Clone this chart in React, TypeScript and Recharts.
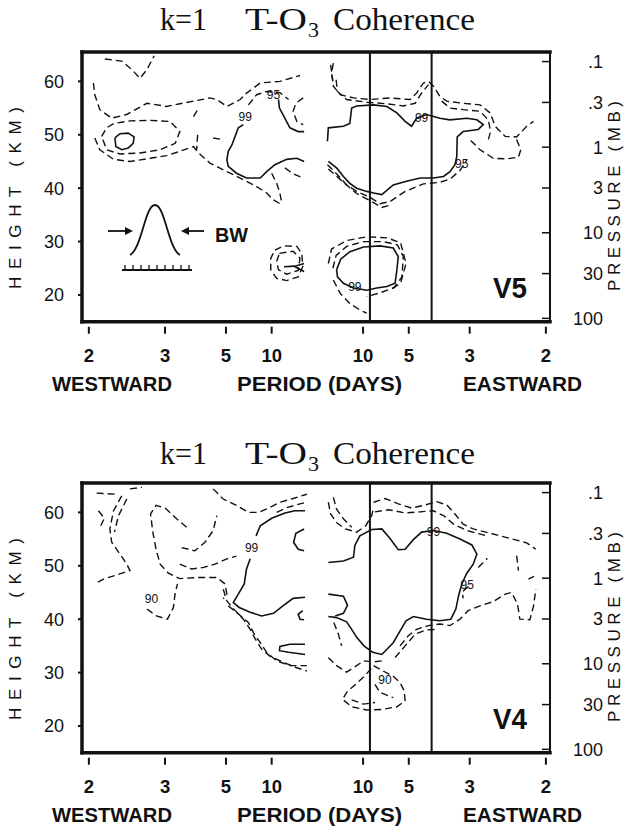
import React from 'react'
import { ScatterChart, Scatter, XAxis, YAxis, ReferenceLine } from 'recharts'

type Pt = [number, number]
type Tag = { f: number; z: number; text: string }

// x: signed frequency (cycles/day, westward < 0), y: height (km)
const FREQ_DOMAIN: [number, number] = [-0.515, 0.509]
const HEIGHT_DOMAIN: [number, number] = [15, 65.5]
const PERIOD_TICKS = [-0.5, -1 / 3, -0.2, -0.1, 0.1, 0.2, 1 / 3, 0.5]
const PERIOD_LABELS = ['2', '3', '5', '10', '10', '5', '3', '2']
const FREQ_MINOR = Array.from({ length: 63 }, (_, i) => (i - 31) / 62)
const HEIGHT_TICKS = [20, 30, 40, 50, 60]
const HEIGHT_MINOR = [20, 25, 30, 35, 40, 45, 50, 55, 60, 65]
const PRESSURE_TICKS = [0.1, 0.3, 1, 3, 10, 30, 100]
const PRESSURE_LABELS = ['.1', '.3', '1', '3', '10', '30', '100']
const PRESSURE_MINOR = [0.2, 0.4, 0.5, 0.6, 0.7, 0.8, 0.9, 2, 4, 5, 6, 7, 8, 9, 20, 40, 50, 60, 70, 80, 90]
const BAND_EDGES = [0.115, 0.25]

const pToKm = (p: number) => 6.96 * Math.log(1000 / p) - 0.4
const PRESSURE_KM = PRESSURE_TICKS.map(pToKm)
const PRESSURE_MINOR_KM = PRESSURE_MINOR.map(pToKm)

// ---- V5 contours ----
const v5d1: Pt[] = [[-0.465, 64.2], [-0.428, 63.8], [-0.406, 62.2], [-0.388, 60.6], [-0.373, 62.2], [-0.357, 64.8]]
const v5d2: Pt[] = [[-0.49, 59.7], [-0.487, 57.5], [-0.476, 54.7], [-0.45, 53.1], [-0.417, 53.8], [-0.373, 55.9], [-0.33, 55.3], [-0.301, 55.8], [-0.235, 56.9], [-0.22, 56.6], [-0.198, 55.3], [-0.169, 56.6], [-0.155, 57.8], [-0.125, 59.7], [-0.082, 60.0], [-0.038, 61.1]]
const v5d3: Pt[] = [[-0.472, 49.7], [-0.461, 51.3], [-0.446, 52.1], [-0.41, 52.6], [-0.366, 52.7], [-0.322, 52.5], [-0.301, 50.6], [-0.311, 48.4], [-0.344, 47.2], [-0.388, 46.6], [-0.432, 46.4], [-0.461, 47.2], [-0.472, 49.7]]
const v5d4: Pt[] = [[-0.487, 49.4], [-0.476, 47.2], [-0.446, 45.4], [-0.41, 45.0], [-0.366, 45.6], [-0.33, 46.1], [-0.301, 46.9], [-0.271, 47.8], [-0.26, 46.6], [-0.235, 44.7], [-0.198, 43.1], [-0.162, 41.6], [-0.133, 40.3], [-0.111, 39.1], [-0.096, 37.8], [-0.078, 36.9]]
const v5d5: Pt[] = [[-0.262, 50.0], [-0.264, 47.2]]
const v5d6: Pt[] = [[-0.151, 55.6], [-0.133, 57.5], [-0.111, 58.1], [-0.082, 57.9], [-0.063, 56.6]]
const v5d7: Pt[] = [[-0.031, 56.9], [-0.047, 55.9], [-0.053, 54.4], [-0.045, 52.5], [-0.031, 51.9]]
const v5d8: Pt[] = [[-0.1, 42.8], [-0.089, 40.9], [-0.082, 39.1], [-0.078, 37.2]]
const v5d9: Pt[] = [[-0.071, 43.8], [-0.053, 42.7], [-0.032, 41.9]]
const v5d10: Pt[] = [[-0.093, 28.4], [-0.074, 29.2], [-0.045, 29.1], [-0.034, 27.8], [-0.032, 25.3], [-0.042, 23.4], [-0.067, 22.7], [-0.089, 23.1], [-0.102, 24.7], [-0.102, 26.9], [-0.093, 28.4]]
const v5d11: Pt[] = [[-0.083, 27.8], [-0.053, 28.2], [-0.038, 26.9], [-0.042, 24.6], [-0.067, 23.9], [-0.085, 24.7], [-0.089, 26.3], [-0.083, 27.8]]
const v5d12: Pt[] = [[0.035, 63.4], [0.031, 61.6], [0.035, 59.1], [0.05, 57.5], [0.079, 56.9], [0.115, 56.6], [0.159, 56.9], [0.203, 56.6], [0.217, 57.8], [0.232, 59.7], [0.243, 60.0], [0.254, 59.1], [0.268, 57.2], [0.283, 56.3], [0.319, 55.9], [0.356, 55.6], [0.378, 54.1], [0.389, 51.6], [0.411, 49.7], [0.436, 49.6], [0.458, 51.6], [0.473, 52.5]]
const v5d13: Pt[] = [[0.436, 49.1], [0.445, 47.2], [0.44, 45.8], [0.414, 45.5], [0.385, 45.6], [0.356, 47.2], [0.33, 49.4]]
const v5d14: Pt[] = [[0.041, 60.3], [0.044, 58.1], [0.064, 56.6], [0.108, 56.1], [0.152, 55.8], [0.188, 55.4], [0.214, 55.9], [0.228, 57.8], [0.243, 59.4]]
const v5d15: Pt[] = [[0.272, 56.3], [0.29, 55.0], [0.319, 54.7], [0.356, 54.4], [0.374, 52.8], [0.379, 50.6], [0.374, 49.1]]
const v5d16: Pt[] = [[0.022, 44.4], [0.042, 42.7], [0.064, 40.6], [0.086, 39.4], [0.115, 38.3], [0.137, 37.1], [0.159, 37.5], [0.192, 39.4], [0.232, 40.8], [0.268, 41.1], [0.29, 41.7], [0.312, 43.3], [0.327, 45.3]]
const v5d17: Pt[] = [[0.024, 43.6], [0.057, 41.1], [0.086, 39.0], [0.123, 37.3], [0.141, 36.4], [0.163, 36.9]]
const v5d18: Pt[] = [[0.029, 63.1], [0.034, 60.0]]
const v5d19: Pt[] = [[0.034, 25.0], [0.041, 27.4], [0.064, 29.1], [0.101, 30.0], [0.144, 30.0], [0.175, 29.4], [0.188, 27.2], [0.185, 23.4], [0.168, 21.4], [0.137, 20.4], [0.108, 19.7]]
const v5d20: Pt[] = [[0.024, 25.9], [0.031, 28.6], [0.064, 30.2], [0.108, 30.9], [0.152, 30.7], [0.182, 29.8], [0.194, 25.9], [0.182, 22.2], [0.159, 20.9]]
const v5d21: Pt[] = [[0.035, 22.8], [0.05, 20.3], [0.071, 18.4], [0.093, 17.2], [0.108, 16.6]]
const v5d22: Pt[] = [[-0.228, 49.4], [-0.206, 49.1]]
const v5d23: Pt[] = [[-0.271, 53.4], [-0.26, 55.0]]

const v5s1: Pt[] = [[-0.443, 49.4], [-0.432, 50.2], [-0.414, 50.3], [-0.401, 49.6], [-0.403, 48.4], [-0.414, 47.5], [-0.428, 47.2], [-0.441, 47.8], [-0.443, 49.4]]
const v5s2: Pt[] = [[-0.162, 51.9], [-0.173, 51.3], [-0.18, 49.7], [-0.187, 48.1], [-0.195, 46.9], [-0.198, 45.3], [-0.195, 44.1], [-0.177, 42.8], [-0.155, 41.9], [-0.125, 41.9], [-0.111, 43.1], [-0.093, 44.4], [-0.067, 45.4], [-0.045, 45.6], [-0.029, 45.0]]
const v5s3: Pt[] = [[-0.085, 56.6], [-0.083, 55.0], [-0.073, 53.4], [-0.06, 51.3], [-0.042, 50.6], [-0.029, 50.6]]
const v5s4: Pt[] = [[-0.073, 25.3], [-0.049, 25.4], [-0.029, 25.9]]
const v5s5: Pt[] = [[-0.049, 25.3], [-0.029, 24.4]]
const v5s6: Pt[] = [[0.022, 48.8], [0.024, 51.3], [0.057, 51.6], [0.071, 52.1], [0.075, 55.0], [0.086, 55.4], [0.123, 55.6], [0.152, 55.3], [0.174, 54.1], [0.192, 52.5], [0.206, 51.6], [0.217, 53.1], [0.239, 53.8], [0.268, 53.1], [0.29, 52.8], [0.327, 53.1], [0.349, 52.8], [0.363, 51.9], [0.352, 51.0], [0.319, 50.6], [0.306, 49.6], [0.305, 45.9], [0.301, 44.4], [0.29, 43.1], [0.276, 42.2], [0.254, 41.9], [0.225, 41.9], [0.195, 41.3], [0.166, 40.6], [0.141, 38.8], [0.123, 39.1], [0.108, 39.4], [0.086, 40.0], [0.071, 40.9], [0.057, 42.2], [0.042, 43.8], [0.024, 45.0]]
const v5s7: Pt[] = [[0.042, 24.7], [0.051, 26.7], [0.071, 28.1], [0.101, 29.0], [0.137, 29.2], [0.166, 28.8], [0.177, 27.2], [0.174, 24.7], [0.17, 22.2], [0.152, 21.6], [0.13, 21.3], [0.108, 20.9], [0.079, 21.3], [0.057, 22.2], [0.044, 23.4], [0.042, 24.7]]

const V5_DASHED = [v5d1, v5d2, v5d3, v5d4, v5d5, v5d6, v5d7, v5d8, v5d9, v5d10, v5d11, v5d12, v5d13, v5d14, v5d15, v5d16, v5d17, v5d18, v5d19, v5d20, v5d21, v5d22, v5d23]
const V5_SOLID = [v5s1, v5s2, v5s3, v5s4, v5s5, v5s6, v5s7]
const V5_TAGS: Tag[] = [
  { f: -0.158, z: 53.4, text: '99' },
  { f: -0.096, z: 57.4, text: '95' },
  { f: 0.228, z: 53.2, text: '99' },
  { f: 0.316, z: 44.6, text: '95' },
  { f: 0.082, z: 21.5, text: '99' },
]

// ---- V4 contours ----
const v4d1: Pt[] = [[-0.483, 63.6], [-0.439, 63.4]]
const v4d1b: Pt[] = [[-0.41, 64.4], [-0.384, 64.7]]
const v4d2: Pt[] = [[-0.479, 60.3], [-0.466, 58.9], [-0.474, 57.5]]
const v4d3: Pt[] = [[-0.428, 63.1], [-0.446, 60.3], [-0.454, 56.9], [-0.45, 54.4], [-0.432, 52.2], [-0.417, 50.3], [-0.41, 49.1], [-0.439, 48.3], [-0.468, 47.5], [-0.483, 46.8]]
const v4d4: Pt[] = [[-0.417, 62.5], [-0.435, 59.4], [-0.444, 56.3]]
const v4d5: Pt[] = [[-0.286, 57.2], [-0.308, 58.8], [-0.333, 60.8], [-0.353, 61.3], [-0.365, 59.7], [-0.36, 56.3], [-0.353, 53.1], [-0.344, 50.3], [-0.326, 48.6], [-0.301, 47.6], [-0.264, 47.8], [-0.22, 47.8], [-0.202, 46.6], [-0.198, 44.7], [-0.206, 43.8]]
const v4d6: Pt[] = [[-0.297, 53.4], [-0.268, 52.8], [-0.246, 54.4], [-0.228, 56.6], [-0.22, 59.4]]
const v4d7: Pt[] = [[-0.301, 50.3], [-0.275, 49.4], [-0.249, 49.7], [-0.224, 50.3], [-0.198, 51.3], [-0.177, 51.8]]
const v4d8: Pt[] = [[-0.373, 41.9], [-0.352, 40.6], [-0.328, 40.0], [-0.315, 42.2], [-0.311, 45.0], [-0.306, 46.6]]
const v4d9: Pt[] = [[-0.228, 64.4], [-0.206, 62.5], [-0.177, 61.3], [-0.151, 60.0], [-0.129, 60.0], [-0.107, 60.8], [-0.082, 61.9], [-0.053, 62.6], [-0.023, 63.4]]
const v4d10: Pt[] = [[-0.089, 60.0], [-0.067, 60.9], [-0.038, 61.6], [-0.023, 61.9]]
const v4d11: Pt[] = [[-0.206, 45.6], [-0.198, 43.4], [-0.18, 41.6], [-0.162, 40.0], [-0.147, 38.1], [-0.136, 36.3], [-0.122, 34.4], [-0.104, 33.1], [-0.074, 31.9], [-0.045, 30.9], [-0.023, 30.3]]
const v4d12: Pt[] = [[-0.195, 42.5], [-0.173, 41.0], [-0.151, 39.4], [-0.14, 37.5], [-0.125, 35.6], [-0.111, 33.8], [-0.089, 32.2], [-0.06, 31.3], [-0.023, 31.3]]
const v4d13: Pt[] = [[0.024, 61.9], [0.029, 59.7], [0.042, 58.1], [0.061, 56.9], [0.086, 56.3], [0.106, 57.5], [0.119, 59.4], [0.123, 60.9]]
const v4d14: Pt[] = [[0.035, 62.8], [0.042, 60.6], [0.057, 58.8], [0.075, 57.2]]
const v4d15: Pt[] = [[0.123, 61.9], [0.148, 62.6], [0.177, 61.6], [0.206, 60.8], [0.232, 61.3], [0.261, 62.0], [0.283, 61.4], [0.301, 59.7], [0.319, 57.8], [0.341, 56.9], [0.378, 56.1], [0.422, 55.1], [0.458, 54.3], [0.478, 53.1]]
const v4d16: Pt[] = [[0.126, 60.1], [0.155, 60.5], [0.192, 59.9], [0.225, 60.1], [0.254, 60.3], [0.276, 59.4], [0.298, 57.8], [0.327, 56.6], [0.371, 55.6]]
const v4d17: Pt[] = [[0.036, 39.4], [0.046, 37.2], [0.053, 35.0]]
const v4d18: Pt[] = [[0.024, 32.8], [0.042, 31.3], [0.064, 30.1], [0.086, 31.3], [0.101, 32.2], [0.123, 32.0], [0.141, 32.2]]
const v4d19: Pt[] = [[0.123, 31.3], [0.144, 30.3], [0.166, 29.3], [0.181, 28.1], [0.19, 26.6], [0.192, 24.7], [0.174, 23.6], [0.141, 23.1], [0.108, 23.0], [0.075, 23.6], [0.055, 25.0], [0.064, 26.3], [0.086, 28.0], [0.104, 29.4], [0.123, 31.3]]
const v4d20: Pt[] = [[0.075, 24.9], [0.101, 24.1], [0.126, 24.4]]
const v4d21: Pt[] = [[0.126, 27.8], [0.137, 26.3], [0.166, 25.3]]
const v4d22: Pt[] = [[0.181, 35.0], [0.199, 36.9], [0.217, 38.1], [0.243, 38.8], [0.268, 39.1], [0.29, 38.8], [0.312, 40.0], [0.33, 41.6], [0.356, 42.5], [0.385, 43.3], [0.411, 44.7], [0.425, 45.0], [0.438, 42.8], [0.443, 40.0], [0.465, 39.9], [0.473, 42.5], [0.478, 45.6]]
const v4d23: Pt[] = [[0.17, 32.8], [0.192, 35.0], [0.214, 37.2], [0.239, 38.0], [0.265, 38.1]]
const v4d24: Pt[] = [[0.436, 51.9], [0.44, 49.1]]
const v4d25: Pt[] = [[0.462, 47.5], [0.474, 48.0]]
const v4d26: Pt[] = [[0.352, 49.7], [0.372, 51.4]]
const v4d27: Pt[] = [[0.33, 46.1], [0.317, 45.1], [0.319, 43.9]]

const v4s1: Pt[] = [[-0.027, 60.3], [-0.049, 60.3], [-0.071, 59.9], [-0.1, 58.9], [-0.125, 57.5], [-0.134, 55.6]]
const v4s2: Pt[] = [[-0.147, 51.3], [-0.155, 49.4], [-0.16, 46.6], [-0.173, 44.7], [-0.184, 43.1], [-0.171, 42.2], [-0.147, 41.3], [-0.122, 40.6], [-0.096, 41.1], [-0.074, 42.6], [-0.053, 43.9], [-0.027, 44.1]]
const v4s3: Pt[] = [[-0.029, 56.9], [-0.047, 56.1], [-0.052, 54.4], [-0.042, 53.1], [-0.029, 52.8]]
const v4s4: Pt[] = [[-0.032, 41.6], [-0.042, 40.9], [-0.038, 40.0], [-0.029, 39.9]]
const v4s5: Pt[] = [[-0.027, 35.3], [-0.06, 35.3], [-0.082, 34.9], [-0.083, 34.1], [-0.063, 33.8], [-0.027, 33.4]]
const v4s6: Pt[] = [[0.024, 50.6], [0.057, 50.9], [0.079, 51.6], [0.082, 53.8], [0.093, 55.6], [0.119, 56.8], [0.141, 56.9], [0.159, 55.1], [0.177, 53.0], [0.192, 53.1], [0.21, 54.9], [0.228, 56.3], [0.254, 56.6], [0.283, 56.1], [0.312, 55.0], [0.338, 53.9], [0.349, 52.2], [0.341, 50.3], [0.327, 48.6], [0.316, 46.6], [0.309, 44.4], [0.303, 41.9], [0.292, 40.0], [0.268, 39.7], [0.239, 40.0], [0.21, 40.5], [0.194, 39.7], [0.181, 37.8], [0.166, 35.6], [0.141, 33.4], [0.121, 33.8], [0.102, 35.0], [0.086, 36.6], [0.075, 38.1], [0.064, 39.5], [0.042, 40.3], [0.024, 40.5]]
const v4s7: Pt[] = [[0.024, 44.7], [0.057, 44.3], [0.066, 42.6], [0.057, 41.1], [0.039, 40.6]]

const V4_DASHED = [v4d1, v4d1b, v4d2, v4d3, v4d4, v4d5, v4d6, v4d7, v4d8, v4d9, v4d10, v4d11, v4d12, v4d13, v4d14, v4d15, v4d16, v4d17, v4d18, v4d19, v4d20, v4d21, v4d22, v4d23, v4d24, v4d25, v4d26, v4d27]
const V4_SOLID = [v4s1, v4s2, v4s3, v4s4, v4s5, v4s6, v4s7]
const V4_TAGS: Tag[] = [
  { f: -0.144, z: 53.3, text: '99' },
  { f: -0.363, z: 43.8, text: '90' },
  { f: 0.254, z: 56.3, text: '99' },
  { f: 0.328, z: 46.5, text: '95' },
  { f: 0.148, z: 28.6, text: '90' },
]

const INK = '#111'
const SANS = 'Liberation Sans, Arial, Helvetica, sans-serif'
const SERIF = 'Liberation Serif, Times New Roman, serif'
const DASH_LINE = { stroke: INK, strokeWidth: 1.4, strokeDasharray: '7 4' }
const SOLID_LINE = { stroke: INK, strokeWidth: 1.6 }

const toPts = (c: Pt[]) => c.map(([f, z]) => ({ f, z }))
const NoMark = () => <g />

const ContourTag = (props: any) => (
  <text x={props.cx} y={props.cy} dy="0.35em" textAnchor="middle" fontFamily={SANS} fontSize={12} fill={INK}>
    {props.payload?.text ?? props.text}
  </text>
)

const PeriodTick = (props: any) => {
  const { x, y, payload } = props
  const i = PERIOD_TICKS.findIndex((t) => Math.abs(t - payload.value) < 1e-6)
  return (
    <g>
      <line x1={x} x2={x} y1={y + 5} y2={y + 12} stroke={INK} strokeWidth={2} />
      <text x={x} y={y + 40} textAnchor="middle" fontFamily={SANS} fontWeight="bold" fontSize={18.5} fill={INK}>
        {PERIOD_LABELS[i]}
      </text>
    </g>
  )
}

const PressureTick = (props: any) => {
  const { x, y, payload } = props
  const i = PRESSURE_KM.findIndex((t) => Math.abs(t - payload.value) < 1e-6)
  return (
    <text x={x} y={y} dy="0.36em" textAnchor="end" fontFamily={SANS} fontSize={18} fill={INK}>
      {PRESSURE_LABELS[i]}
    </text>
  )
}

function Panel({ top, dashed, solid, tags }: { top: number; dashed: Pt[][]; solid: Pt[][]; tags: Tag[] }) {
  const frame = { stroke: INK, strokeWidth: 3.5, strokeLinecap: 'square' as const }
  const fine = { stroke: INK, strokeWidth: 1.3 }
  return (
    <div style={{ position: 'absolute', left: 0, top, width: 637, height: 400 }}>
      <ScatterChart width={637} height={400} margin={{ top: 52, right: 0, bottom: 0, left: 0 }}>
        <XAxis xAxisId="f" dataKey="f" type="number" domain={FREQ_DOMAIN} allowDataOverflow ticks={PERIOD_TICKS}
          interval={0} height={78.3} tickLine={false} tickSize={0} tickMargin={0} axisLine={frame} tick={PeriodTick} />
        <XAxis xAxisId="fb" type="number" domain={FREQ_DOMAIN} allowDataOverflow orientation="bottom" mirror
          ticks={FREQ_MINOR} interval={0} tickSize={4} tick={false} axisLine={false} tickLine={fine} />
        <XAxis xAxisId="ft" type="number" domain={FREQ_DOMAIN} allowDataOverflow orientation="top" mirror
          ticks={FREQ_MINOR} interval={0} tickSize={4} tick={false} axisLine={frame} tickLine={fine} />
        <YAxis yAxisId="km" dataKey="z" type="number" domain={HEIGHT_DOMAIN} allowDataOverflow ticks={HEIGHT_TICKS}
          interval={0} width={82} tickSize={4} tickMargin={14} axisLine={frame} tickLine={{ stroke: INK, strokeWidth: 2 }}
          tick={{ fill: INK, fontSize: 18, fontFamily: SANS }} />
        <YAxis yAxisId="kmMinor" type="number" domain={HEIGHT_DOMAIN} allowDataOverflow orientation="left" mirror
          ticks={HEIGHT_MINOR} interval={0} tickSize={7} tick={false} axisLine={false} tickLine={{ stroke: INK, strokeWidth: 1.5 }} />
        <YAxis yAxisId="p" type="number" domain={HEIGHT_DOMAIN} allowDataOverflow orientation="right" ticks={PRESSURE_KM}
          interval={0} width={87} tickSize={-8} tickMargin={61} axisLine={{ stroke: INK, strokeWidth: 2 }}
          tickLine={{ stroke: INK, strokeWidth: 1.5 }} tick={PressureTick} />
        <YAxis yAxisId="pMinor" type="number" domain={HEIGHT_DOMAIN} allowDataOverflow orientation="right" mirror
          ticks={PRESSURE_MINOR_KM} interval={0} tickSize={4} tick={false} axisLine={false} tickLine={fine} />

        {BAND_EDGES.map((x) => (
          <ReferenceLine key={x} xAxisId="f" yAxisId="km" x={x} stroke={INK} strokeWidth={2} />
        ))}
        {dashed.map((c, i) => (
          <Scatter key={`d${i}`} xAxisId="f" yAxisId="km" data={toPts(c)} line={DASH_LINE} shape={NoMark} isAnimationActive={false} />
        ))}
        {solid.map((c, i) => (
          <Scatter key={`s${i}`} xAxisId="f" yAxisId="km" data={toPts(c)} line={SOLID_LINE} shape={NoMark} isAnimationActive={false} />
        ))}
        <Scatter xAxisId="f" yAxisId="km" data={tags} shape={ContourTag} isAnimationActive={false} />
      </ScatterChart>
    </div>
  )
}

function Texts({ dy, titleY, tag }: { dy: number; titleY: number; tag: string }) {
  return (
    <g fill={INK}>
      <g fontFamily={SERIF} fontSize={32}>
        <text x={160} y={titleY} textLength={47} lengthAdjust="spacingAndGlyphs">k=1</text>
        <text x={245} y={titleY} textLength={62} lengthAdjust="spacingAndGlyphs">T-O</text>
        <text x={308} y={titleY + 7} fontSize={22}>3</text>
        <text x={333} y={titleY} textLength={142} lengthAdjust="spacingAndGlyphs">Coherence</text>
      </g>
      <text transform={`translate(15 ${198 + dy}) rotate(-90)`} textAnchor="middle" dominantBaseline="central"
        fontFamily={SANS} fontSize={17} textLength={182} lengthAdjust="spacing">HEIGHT (KM)</text>
      <text transform={`translate(614 ${196 + dy}) rotate(-90)`} textAnchor="middle" dominantBaseline="central"
        fontFamily={SANS} fontSize={17} textLength={190} lengthAdjust="spacing">PRESSURE (MB)</text>
      <g fontFamily={SANS} fontWeight="bold" fontSize={20}>
        <text x={52} y={391 + dy} textLength={120} lengthAdjust="spacingAndGlyphs">WESTWARD</text>
        <text x={237} y={391 + dy} textLength={165} lengthAdjust="spacingAndGlyphs">PERIOD (DAYS)</text>
        <text x={463} y={391 + dy} textLength={119} lengthAdjust="spacingAndGlyphs">EASTWARD</text>
        <text x={493} y={298 + dy} fontSize={29} textLength={34} lengthAdjust="spacingAndGlyphs">{tag}</text>
      </g>
    </g>
  )
}

function BandwidthKey() {
  return (
    <g stroke={INK} fill="none" strokeWidth={1.8}>
      <path d="M130,255 C142,248 145,205 155,205 C165,205 168,248 180,255" />
      <line x1={122} y1={270} x2={192} y2={270} />
      {[125, 133, 141, 149, 157, 165, 173, 181, 189].map((x) => (
        <line key={x} x1={x} y1={265} x2={x} y2={270} strokeWidth={1.3} />
      ))}
      <line x1={108} y1={231} x2={128} y2={231} />
      <polygon points="133,231 125,227 125,235" fill={INK} stroke="none" />
      <line x1={204} y1={231} x2={186} y2={231} />
      <polygon points="181,231 189,227 189,235" fill={INK} stroke="none" />
      <text x={215} y={241.7} fill={INK} stroke="none" fontFamily={SANS} fontWeight="bold" fontSize={20}
        textLength={33} lengthAdjust="spacingAndGlyphs">BW</text>
    </g>
  )
}

export default function App() {
  return (
    <div style={{ position: 'absolute', left: 0, top: 0, width: 637, height: 832, background: '#fff' }}>
      <Panel top={0} dashed={V5_DASHED} solid={V5_SOLID} tags={V5_TAGS} />
      <Panel top={431} dashed={V4_DASHED} solid={V4_SOLID} tags={V4_TAGS} />
      <svg width={637} height={832} style={{ position: 'absolute', left: 0, top: 0, pointerEvents: 'none' }}>
        <Texts dy={0} titleY={30} tag="V5" />
        <Texts dy={431} titleY={463.5} tag="V4" />
        <BandwidthKey />
      </svg>
    </div>
  )
}
